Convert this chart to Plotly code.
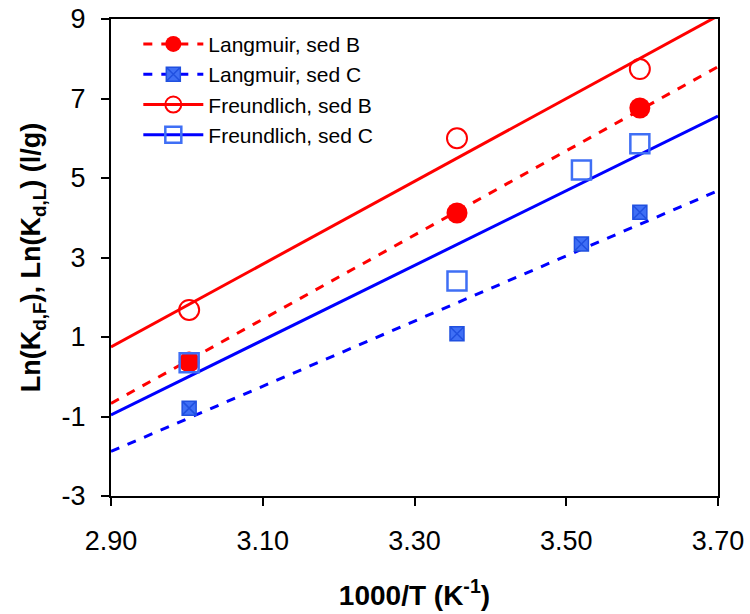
import plotly.graph_objects as go

# data points: 1000/T (K^-1) and Ln(Kd)
x_B = [3.003, 3.356, 3.597]
langmuir_B = [0.37, 4.12, 6.76]
freundlich_B = [1.68, 6.00, 7.74]

x_C = [3.003, 3.356, 3.520, 3.597]
langmuir_C = [-0.79, 1.08, 3.34, 4.14]
freundlich_C = [0.35, 2.41, 5.20, 5.86]

# fitted trend lines (read at the axis ends)
fit_x = [2.90, 3.70]
fit_langmuir_B = [-0.67, 7.80]
fit_langmuir_C = [-1.88, 4.68]
fit_freundlich_B = [0.75, 9.08]
fit_freundlich_C = [-0.96, 6.56]

x_ticks = [2.90, 3.10, 3.30, 3.50, 3.70]
x_labels = ["2.90", "3.10", "3.30", "3.50", "3.70"]
y_ticks = [-3, -1, 1, 3, 5, 7, 9]
y_labels = ["-3", "-1", "1", "3", "5", "7", "9"]

RED = "#ff0000"
BLUE = "#0000ff"
LBLUE = "#3f6ff5"
FONT = "Liberation Sans, Arial"

series = [
    ("Langmuir, sed B", x_B, langmuir_B, fit_langmuir_B, RED, "dash",
     dict(symbol="circle", size=21, color=RED, line=dict(width=0))),
    ("Langmuir, sed C", x_C, langmuir_C, fit_langmuir_C, BLUE, "dash",
     dict(symbol="square-x", size=14, color=LBLUE, line=dict(width=1.5, color="#2050e0"))),
    ("Freundlich, sed B", x_B, freundlich_B, fit_freundlich_B, RED, "solid",
     dict(symbol="circle-open", size=20, color=RED, line=dict(width=2, color=RED))),
    ("Freundlich, sed C", x_C, freundlich_C, fit_freundlich_C, BLUE, "solid",
     dict(symbol="square-open", size=19, color=LBLUE, line=dict(width=2.5, color=LBLUE))),
]

fig = go.Figure()
for name, xs, ys, fy, col, dash, mk in series:
    fig.add_trace(go.Scatter(x=fit_x, y=fy, mode="lines", line=dict(color=col, width=3, dash=dash),
                             showlegend=False, legendgroup=name, hoverinfo="skip"))
for name, xs, ys, fy, col, dash, mk in series:
    fig.add_trace(go.Scatter(x=xs, y=ys, mode="markers", marker=mk, showlegend=False,
                             legendgroup=name, cliponaxis=False))
for name, xs, ys, fy, col, dash, mk in series:
    lmk = dict(mk)
    lmk["size"] = min(mk["size"], 16)
    fig.add_trace(go.Scatter(x=[None], y=[None], mode="lines+markers", name=name,
                             line=dict(color=col, width=3, dash=dash), marker=lmk,
                             legendgroup=name))

axis_common = dict(
    showline=True, linecolor="black", linewidth=2, mirror=True,
    ticks="outside", ticklen=8, tickwidth=2, tickcolor="black",
    showgrid=False, zeroline=False, automargin=False,
    tickfont=dict(family=FONT, size=27, color="black"),
)

fig.update_layout(
    width=750, height=614,
    margin=dict(l=111, r=32, t=19, b=118),
    paper_bgcolor="white", plot_bgcolor="white",
    font=dict(family=FONT, color="black"),
    xaxis=dict(range=[2.90, 3.70], tickvals=x_ticks, ticktext=x_labels, ticklabelstandoff=12,
               title=dict(text="<b>1000/T (K<sup>-1</sup>)</b>", font=dict(size=28), standoff=30),
               **axis_common),
    yaxis=dict(range=[-3, 9], tickvals=y_ticks, ticktext=y_labels, ticklabelstandoff=10,
               title=dict(text="<b>Ln(K<sub>d,F</sub>), Ln(K<sub>d,L</sub>) (l/g)</b>", font=dict(size=27), standoff=13),
               **axis_common),
    legend=dict(x=0.045, y=0.99, xanchor="left", yanchor="top", bgcolor="rgba(0,0,0,0)",
                font=dict(size=21), itemwidth=60, tracegroupgap=0),
)

fig.write_html("out.html")
